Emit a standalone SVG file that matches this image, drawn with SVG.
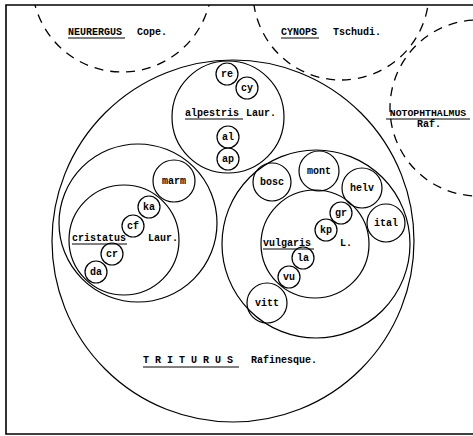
<svg xmlns="http://www.w3.org/2000/svg" width="473" height="436" viewBox="0 0 473 436">
<defs>
<clipPath id="inside"><rect x="6" y="5" width="467" height="429"/></clipPath>
</defs>
<style>
.c{fill:none;stroke:#000;stroke-width:1.2}
.d{fill:none;stroke:#000;stroke-width:1.3;stroke-dasharray:9 7}
.f{stroke:#000;stroke-width:1.6;fill:none}
.u{stroke:#000;stroke-width:1}
text{font-family:"Liberation Mono","DejaVu Sans Mono",monospace;font-size:10px;font-weight:bold;fill:#000}
.m{text-anchor:middle}
</style>
<rect width="473" height="436" fill="#fff"/>
<g id="frame">
<path class="f" d="M473,5 L6,5 L6,434 L473,434"/>
</g>
<g id="neurergus">
<circle class="d" cx="122" cy="-18" r="90" clip-path="url(#inside)"/>
<text x="68" y="35">NEURERGUS</text><text x="137" y="35">Cope.</text>
<line class="u" x1="68" y1="38" x2="125" y2="38"/>
</g>
<g id="cynops">
<circle class="d" cx="341" cy="-8" r="88" clip-path="url(#inside)"/>
<text x="281" y="35">CYNOPS</text><text x="333" y="35">Tschudi.</text>
<line class="u" x1="281" y1="38" x2="319" y2="38"/>
</g>
<g id="notophthalmus">
<circle class="d" cx="478" cy="108" r="88" clip-path="url(#inside)"/>
<text x="428" y="116" class="m" style="font-size:9.8px">NOTOPHTHALMUS</text>
<line class="u" x1="386" y1="119" x2="470" y2="119"/>
<text x="429" y="127" class="m">Raf.</text>
</g>
<g id="triturus">
<circle class="c" cx="233" cy="241" r="181"/>
<text x="143" y="363">T R I T U R U S</text><text x="251" y="363">Rafinesque.</text>
<line class="u" x1="143" y1="367" x2="239" y2="367"/>
</g>
<g id="alpestris">
<circle class="c" cx="228" cy="117" r="56"/>
<text x="185" y="116">alpestris</text><text x="246" y="116">Laur.</text>
<line class="u" x1="185" y1="119" x2="243" y2="119"/>
</g>
<g id="re"><circle class="c" cx="227" cy="74" r="11"/><text class="m" x="227" y="77">re</text></g>
<g id="cy"><circle class="c" cx="247" cy="88" r="11"/><text class="m" x="247" y="91">cy</text></g>
<g id="al"><circle class="c" cx="228" cy="137" r="11"/><text class="m" x="228" y="140">al</text></g>
<g id="ap"><circle class="c" cx="228" cy="159" r="11"/><text class="m" x="228" y="162">ap</text></g>
<g id="cristatus-group">
<circle class="c" cx="138" cy="223" r="79"/>
</g>
<g id="cristatus">
<circle class="c" cx="124" cy="240" r="55"/>
<text x="72" y="241">cristatus</text><text x="148" y="241">Laur.</text>
<line class="u" x1="72" y1="244" x2="127" y2="244"/>
</g>
<g id="marm"><circle class="c" cx="174" cy="181" r="21"/><text class="m" x="174" y="184">marm</text></g>
<g id="ka"><circle class="c" cx="149" cy="207" r="11"/><text class="m" x="149" y="210">ka</text></g>
<g id="cf"><circle class="c" cx="133" cy="226" r="11"/><text class="m" x="133" y="229">cf</text></g>
<g id="cr"><circle class="c" cx="112" cy="254" r="11"/><text class="m" x="112" y="257">cr</text></g>
<g id="da"><circle class="c" cx="96" cy="272" r="11"/><text class="m" x="96" y="275">da</text></g>
<g id="vulgaris-group">
<circle class="c" cx="316" cy="244" r="94"/>
</g>
<g id="vulgaris">
<circle class="c" cx="315" cy="244" r="54"/>
<text x="263" y="246">vulgaris</text><text x="340" y="246">L.</text>
<line class="u" x1="263" y1="249" x2="314" y2="249"/>
</g>
<g id="bosc"><circle class="c" cx="272" cy="182" r="19"/><text class="m" x="272" y="185">bosc</text></g>
<g id="mont"><circle class="c" cx="319" cy="171" r="20"/><text class="m" x="319" y="174">mont</text></g>
<g id="helv"><circle class="c" cx="362" cy="188" r="20"/><text class="m" x="362" y="191">helv</text></g>
<g id="ital"><circle class="c" cx="386" cy="223" r="19"/><text class="m" x="386" y="226">ital</text></g>
<g id="gr"><circle class="c" cx="341" cy="213" r="11"/><text class="m" x="341" y="216">gr</text></g>
<g id="kp"><circle class="c" cx="326" cy="230" r="11"/><text class="m" x="326" y="233">kp</text></g>
<g id="la"><circle class="c" cx="303" cy="258" r="11"/><text class="m" x="303" y="261">la</text></g>
<g id="vu"><circle class="c" cx="289" cy="277" r="11"/><text class="m" x="289" y="280">vu</text></g>
<g id="vitt"><circle class="c" cx="267" cy="303" r="20"/><text class="m" x="267" y="306">vitt</text></g>
<g id="connectors"></g>
</svg>
